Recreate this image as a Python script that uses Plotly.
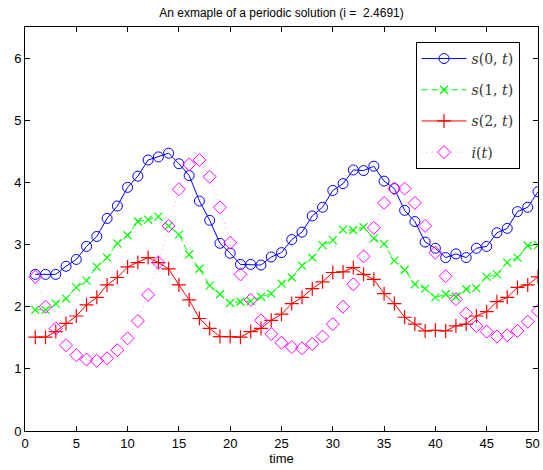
import plotly.graph_objects as go

t = list(range(1, 51))

s0 = [2.52, 2.52, 2.52, 2.65, 2.76, 2.97, 3.13, 3.42, 3.62, 3.92,
      4.10, 4.36, 4.41, 4.47, 4.30, 4.11, 3.70, 3.39, 3.02, 2.86,
      2.68, 2.68, 2.67, 2.80, 2.87, 3.08, 3.20, 3.46, 3.60, 3.87,
      3.98, 4.20, 4.19, 4.26, 4.02, 3.90, 3.55, 3.37, 3.04, 2.94,
      2.79, 2.85, 2.79, 2.94, 2.97, 3.19, 3.26, 3.53, 3.60, 3.85]

s1 = [1.95, 1.95, 2.05, 2.13, 2.31, 2.42, 2.64, 2.79, 3.02, 3.15,
      3.37, 3.40, 3.45, 3.30, 3.16, 2.84, 2.61, 2.34, 2.20, 2.06,
      2.08, 2.09, 2.16, 2.21, 2.37, 2.47, 2.66, 2.79, 2.99, 3.07,
      3.24, 3.23, 3.28, 3.10, 3.01, 2.74, 2.59, 2.36, 2.29, 2.15,
      2.20, 2.16, 2.28, 2.30, 2.48, 2.52, 2.71, 2.79, 2.98, 2.99]

s2 = [1.51, 1.51, 1.60, 1.73, 1.85, 2.03, 2.15, 2.35, 2.47, 2.64,
      2.71, 2.79, 2.71, 2.61, 2.35, 2.11, 1.81, 1.65, 1.52, 1.52,
      1.51, 1.60, 1.65, 1.78, 1.88, 2.05, 2.15, 2.29, 2.40, 2.55,
      2.56, 2.63, 2.52, 2.44, 2.21, 2.05, 1.83, 1.72, 1.61, 1.62,
      1.61, 1.69, 1.72, 1.85, 1.92, 2.08, 2.15, 2.31, 2.35, 2.48]

i_t = [2.48, 2.00, 1.65, 1.38, 1.22, 1.15, 1.13, 1.17, 1.30, 1.49,
       1.77, 2.19, 2.71, 3.30, 3.89, 4.29, 4.36, 4.09, 3.60, 3.03,
       2.52, 2.11, 1.78, 1.56, 1.42, 1.35, 1.33, 1.40, 1.52, 1.72,
       2.00, 2.36, 2.81, 3.27, 3.67, 3.90, 3.90, 3.67, 3.30, 2.87,
       2.49, 2.12, 1.89, 1.69, 1.60, 1.52, 1.54, 1.61, 1.76, 1.93]

names = ["<i>s</i>(0, <i>t</i>)", "<i>s</i>(1, <i>t</i>)",
         "<i>s</i>(2, <i>t</i>)", "<i>i</i>(<i>t</i>)"]

x_ticks = list(range(0, 51, 5))
x_tick_labels = ["0", "5", "10", "15", "20", "25", "30", "35", "40", "45",
                 "50\u00a0\u00a0\u00a0"]
y_ticks = list(range(0, 7))

fig = go.Figure()
fig.add_trace(go.Scatter(x=t, y=s0, name=names[0], mode="lines+markers",
                         legendgroup="a",
                         line=dict(color="#0000FF", width=1),
                         marker=dict(symbol="circle-open", size=10,
                                     color="#0000FF", line=dict(width=1))))
fig.add_trace(go.Scatter(x=t, y=s1, name=names[1], mode="lines+markers",
                         legendgroup="b",
                         line=dict(color="#00FF00", width=1, dash="6px,4px"),
                         marker=dict(symbol="x-thin-open", size=8,
                                     color="#00FF00", line=dict(width=1.2, color="#00FF00"))))
fig.add_trace(go.Scatter(x=t, y=s2, name=names[2], mode="lines+markers",
                         legendgroup="c",
                         line=dict(color="#FF0000", width=1),
                         marker=dict(symbol="cross-thin-open", size=10,
                                     color="#FF0000", line=dict(width=1.2, color="#FF0000"))))
fig.add_trace(go.Scatter(x=t, y=i_t, name=names[3], mode="lines+markers",
                         legendgroup="d",
                         line=dict(color="#FF66FF", width=0.7, dash="1px,4px"),
                         marker=dict(symbol="diamond-open", size=10,
                                     color="#FF00FF", line=dict(width=1))))

axis_common = dict(showline=True, linecolor="black", linewidth=1, mirror="ticks",
                   ticks="inside", ticklen=5, tickcolor="black", tickwidth=1,
                   showgrid=False, zeroline=False, automargin=False,
                   ticklabeloverflow="allow",
                   tickfont=dict(family="Liberation Sans, Arial, sans-serif", size=13, color="black"))

fig.update_xaxes(range=[0, 50], tickvals=x_ticks, ticktext=x_tick_labels,
                 title=dict(text="time", font=dict(family="Liberation Sans, Arial, sans-serif", size=13, color="black"), standoff=4),
                 **axis_common)
fig.update_yaxes(range=[0, 6.5], tickvals=y_ticks, **axis_common)

fig.update_layout(
    width=543, height=470,
    margin=dict(l=25, r=5, t=27, b=39),
    paper_bgcolor="white", plot_bgcolor="white",
    title=dict(text="An exmaple of a periodic solution (i =\u00a0 2.4691)",
               x=0.5, xref="paper", xanchor="center",
               y=1 - 13 / 470, yref="container", yanchor="middle",
               font=dict(family="Liberation Sans, Arial, sans-serif", size=12, color="black")),
    legend=dict(x=0.964, xanchor="right", y=0.963, yanchor="top",
                bgcolor="white", bordercolor="black", borderwidth=1,
                font=dict(family="DejaVu Serif, Liberation Serif, serif", size=14, color="#333333"),
                tracegroupgap=10, itemwidth=45),
    showlegend=True,
)

fig.write_html("out.html", config={"displayModeBar": False},
               post_script="document.body.style.margin='0';document.body.style.overflow='hidden';")
